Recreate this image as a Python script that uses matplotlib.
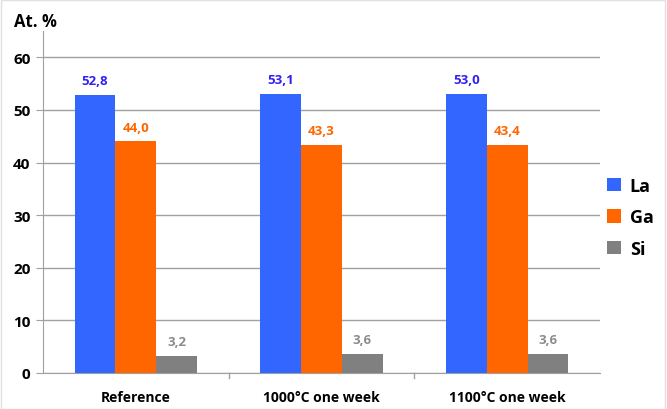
import numpy as np
import matplotlib
matplotlib.use("Agg")
import matplotlib.pyplot as plt
from matplotlib.patches import Rectangle

plt.rcParams['font.family'] = ['Open Sans', 'DejaVu Sans']

categories = ["Reference", "1000°C one week", "1100°C one week"]
series = ["La", "Ga", "Si"]
la = [52.8, 53.1, 53.0]
ga = [44.0, 43.3, 43.4]
si = [3.2, 3.6, 3.6]
yticks = [0, 10, 20, 30, 40, 50, 60]

colors = ["#3366FF", "#FF6600", "#808080"]
label_colors = ["#3322EE", "#FF6600", "#8C8C8C"]

fig = plt.figure(figsize=(6.67, 4.10), dpi=100)
ax = fig.add_axes([43 / 667, 36 / 410, 557 / 667, 342 / 410])

x = np.arange(len(categories))
w = 0.22
for i, (vals, c, lc) in enumerate(zip([la, ga, si], colors, label_colors)):
    pos = x + (i - 1) * w
    ax.bar(pos, vals, width=w, color=c, label=series[i], zorder=3)
    for px, v in zip(pos, vals):
        ax.text(px, v + 1.5, f"{v:.1f}".replace(".", ","), ha="center", va="bottom",
                color=lc, fontsize=9.5, fontweight="bold")

ax.set_xlim(-0.5, len(categories) - 0.5)
ax.set_ylim(0, 65)
ax.set_yticks(yticks)
ax.set_yticklabels([str(t) for t in yticks], fontsize=11, fontweight="bold")
ax.yaxis.grid(True, color="#A0A0A0", linewidth=1)
ax.set_axisbelow(True)
ax.tick_params(axis="y", length=5, color="#A0A0A0", pad=4)

ax.set_xticks(x)
ax.set_xticklabels(categories, fontsize=10, fontweight="bold")
ax.tick_params(axis="x", length=0, pad=12)
for b in [0.5, 1.5]:
    ax.plot([b, b], [0, -0.9], color="#A0A0A0", lw=1, clip_on=False)

for s in ["top", "right"]:
    ax.spines[s].set_visible(False)
ax.spines["left"].set_color("#A0A0A0")
ax.spines["bottom"].set_color("#A0A0A0")

fig.text(14 / 667, 1 - 22 / 410, "At. %", fontsize=12, fontweight="bold", va="center")

leg = ax.legend(loc="center left", bbox_to_anchor=(1.0, 0.455), frameon=False,
                prop={"weight": "bold", "size": 13},
                handlelength=0.75, handleheight=0.75, handletextpad=0.5,
                labelspacing=0.75, borderaxespad=0.0)

fig.patches.append(Rectangle((0.001, 0.001), 0.996, 0.996, transform=fig.transFigure,
                             fill=False, edgecolor="#E0E0E0", lw=1))

fig.savefig("out.png", dpi=100)
